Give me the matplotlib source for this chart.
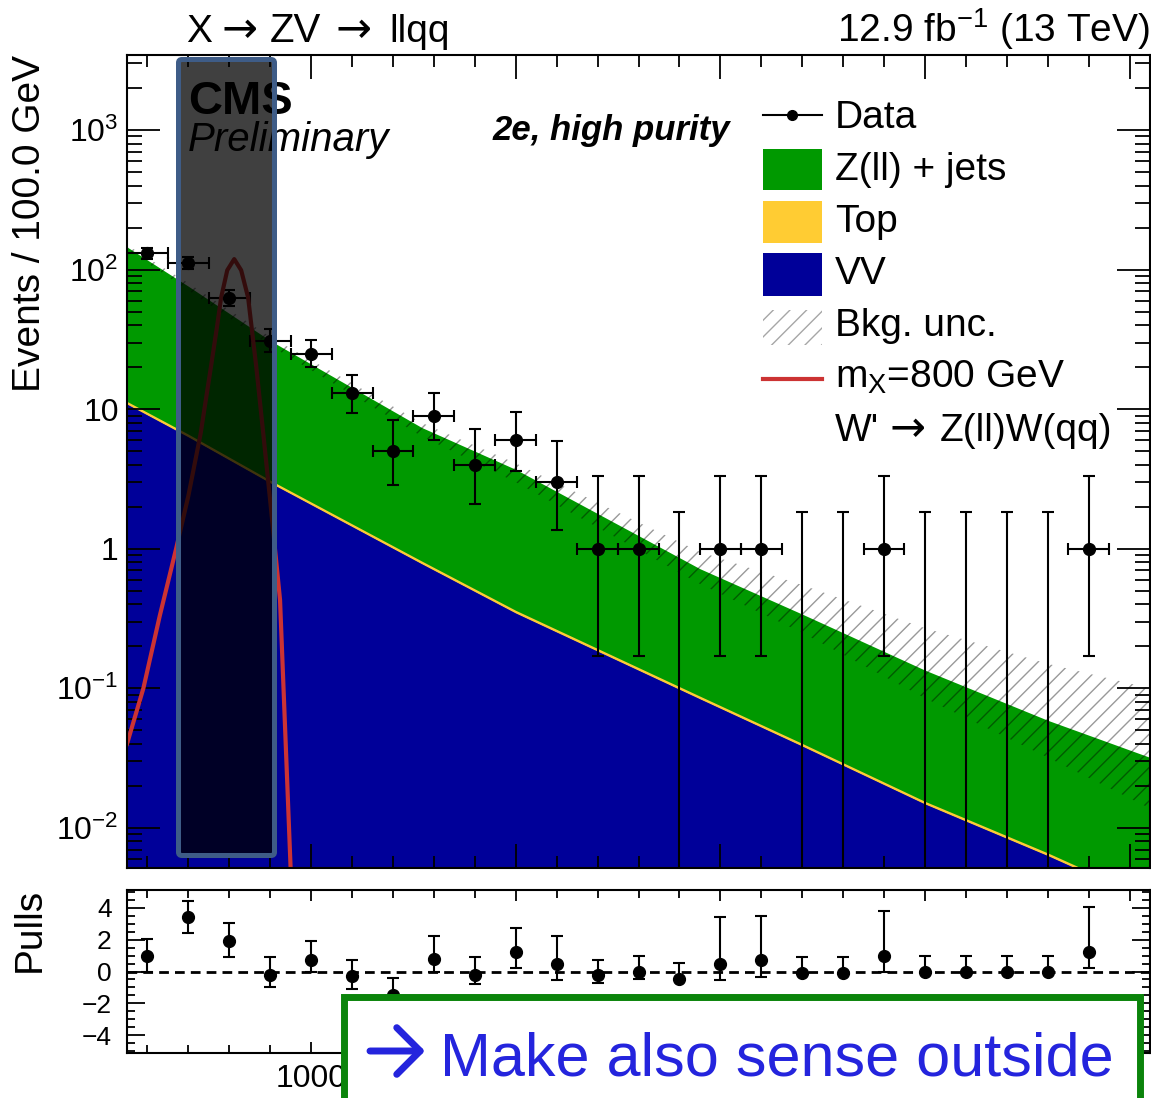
import numpy as np
import matplotlib
matplotlib.use("Agg")
import matplotlib.pyplot as plt
from matplotlib.patches import Rectangle, FancyBboxPatch, FancyArrowPatch
from matplotlib.lines import Line2D
from matplotlib.ticker import MultipleLocator, LogLocator, FuncFormatter, FixedLocator, NullFormatter

plt.rcParams['font.family'] = ['Liberation Sans', 'DejaVu Sans']
plt.rcParams['mathtext.fontset'] = 'custom'
plt.rcParams['mathtext.rm'] = 'Liberation Sans'
plt.rcParams['mathtext.it'] = 'Liberation Sans:italic'
plt.rcParams['mathtext.bf'] = 'Liberation Sans:bold'
plt.rcParams['hatch.linewidth'] = 1.0

# --- data ---
bin_center = [600, 700, 800, 900, 1000, 1100, 1200, 1300, 1400, 1500, 1600, 1700,
              1800, 1900, 2000, 2100, 2200, 2300, 2400, 2500, 2600, 2700, 2800, 2900]
bin_width = 100
counts = [131, 111, 63, 31, 25, 13, 5, 9, 4, 6, 3, 1, 1, 0, 1, 1, 0, 0, 1, 0, 0, 0, 0, 1]
err_lo = [11.4, 10.5, 7.9, 5.5, 4.9, 3.6, 2.16, 2.94, 1.91, 2.38, 1.63, 0.83, 0.83, 0,
          0.83, 0.83, 0, 0, 0.83, 0, 0, 0, 0, 0.83]
err_hi = [12.5, 11.6, 9.0, 6.6, 6.1, 4.7, 3.38, 4.11, 3.16, 3.58, 2.92, 2.30, 2.30, 1.84,
          2.30, 2.30, 1.84, 1.84, 2.30, 1.84, 1.84, 1.84, 1.84, 2.30]

pull = [1.0, 3.4, 1.9, -0.25, 0.75, -0.3, -1.45, 0.8, -0.25, 1.2, 0.5, -0.25,
        -0.05, -0.45, 0.5, 0.7, -0.1, -0.1, 1.0, -0.05, -0.05, -0.05, -0.05, 1.2]
pull_top = [2.06, 4.4, 3.06, 0.9, 1.9, 0.75, -0.4, 2.2, 0.9, 2.75, 2.25, 0.75,
            0.95, 0.55, 3.4, 3.5, 0.9, 0.9, 3.8, 0.95, 0.95, 0.95, 0.95, 4.05]
pull_bot = [0.0, 2.4, 0.9, -1.0, 0.0, -1.1, -2.5, 0.0, -0.8, 0.2, -0.55, -0.7,
            -0.45, -0.45, -0.55, -0.35, -0.1, -0.1, 0.0, -0.05, -0.05, -0.05, -0.05, 0.2]

curve_mass = [550, 700, 900, 1270, 1500, 1950, 2200, 2500, 2800, 3050]
vv = [11, 6.4, 3.0, 0.79, 0.35, 0.085, 0.039, 0.015, 0.0064, 0.003]
top = [0.37, 0.22, 0.10, 0.027, 0.012, 0.0029, 0.0013, 0.0005, 0.00022, 0.0001]
zjets = [134, 69.4, 27.9, 6.58, 3.34, 0.632, 0.30, 0.1195, 0.0524, 0.0289]
unc_up = [150, 80, 33, 8.0, 4.1, 0.95, 0.55, 0.27, 0.15, 0.10]
unc_dn = [140, 71, 28.5, 6.4, 3.0, 0.56, 0.25, 0.085, 0.032, 0.0138]

sig_mass = [550, 590, 630, 670, 700, 730, 755, 770, 780, 795, 812, 829, 846, 866, 883, 900, 924, 950]
sig = [0.04, 0.1, 0.33, 1.0, 2.4, 6.7, 20, 39, 63, 99, 119, 99, 63, 20, 6.7, 2.2, 0.43, 0.005]

W, H = 1151, 1098
def P(x, y):
    return (x / W, 1 - y / H)

fig = plt.figure(figsize=(W / 100, H / 100), dpi=100)
ax = fig.add_axes([127 / W, 1 - 868 / H, (1150 - 127) / W, (868 - 55) / H])
ax2 = fig.add_axes([127 / W, 1 - 1053 / H, (1150 - 127) / W, (1053 - 890) / H])

x = np.array(bin_center)
c = np.array(counts, dtype=float)
lo = np.array(err_lo)
hi = np.array(err_hi)
m = np.array(curve_mass)
vv = np.array(vv); top = np.array(top); zjets = np.array(zjets)

floor = 1e-4
ax.fill_between(m, floor, vv, color='#000099', lw=0)
ax.fill_between(m, vv, vv + top, facecolor='#ffcc33', edgecolor='#ffcc33', lw=0.8)
ax.fill_between(m, vv + top, vv + top + zjets, color='#009900', lw=0)
ax.fill_between(m, unc_dn, unc_up, facecolor='none', edgecolor=(0, 0, 0, 0.4), hatch='//', lw=0)

nz = c > 0
ax.errorbar(x[nz], c[nz], xerr=bin_width / 2, yerr=[lo[nz], hi[nz]], fmt='o', color='k',
            ms=8.5, elinewidth=1.5, capsize=4, capthick=1.5)
zb = ~nz
ax.vlines(x[zb], floor, hi[zb], color='k', lw=1.5)
ax.plot(x[zb], hi[zb], ls='none', marker='_', ms=8, mew=1.5, color='k')

ax.plot(sig_mass, sig, color='#cc3333', lw=3)

ax.set_yscale('log')
ax.set_xlim(550, 3050)
ax.set_ylim(0.00516, 3450)

def yfmt(v, pos):
    e = int(round(np.log10(v)))
    if e == 0:
        return '1'
    if e == 1:
        return '10'
    return '$10^{%d}$' % e

ax.xaxis.set_major_locator(MultipleLocator(500))
ax.xaxis.set_minor_locator(MultipleLocator(100))
ax.yaxis.set_major_locator(LogLocator(base=10, numticks=20))
ax.yaxis.set_minor_locator(LogLocator(base=10, subs=range(2, 10), numticks=20))
ax.yaxis.set_major_formatter(FuncFormatter(yfmt))
ax.yaxis.set_minor_formatter(NullFormatter())
ax.tick_params(which='both', direction='in', top=True, right=True, labelbottom=False, width=1.3)
ax.tick_params(axis='x', which='major', length=17)
ax.tick_params(axis='x', which='minor', length=8.5)
ax.tick_params(axis='y', which='major', length=24, labelsize=23, pad=6)
ax.tick_params(axis='y', which='minor', length=11)

# pulls
pull = np.array(pull)
ax2.errorbar(x, pull, yerr=[pull - np.array(pull_bot), np.array(pull_top) - pull], fmt='o',
             color='k', ms=8.5, elinewidth=1.5, capsize=4, capthick=1.5)
ax2.axhline(0, color='k', ls=(0, (3.5, 2.2)), lw=2)
ax2.set_xlim(550, 3050)
ax2.set_ylim(-5.1, 5.1)
# only the 1000 label is visible; the others sit under the note box
ax2.xaxis.set_major_locator(FixedLocator([1000, 1500, 2000, 2500, 3000]))
ax2.xaxis.set_major_formatter(FuncFormatter(lambda v, p: '%d' % v if v == 1000 else ''))
ax2.xaxis.set_minor_locator(MultipleLocator(100))
ax2.yaxis.set_major_locator(FixedLocator([-4, -2, 0, 2, 4]))
ax2.yaxis.set_minor_locator(MultipleLocator(0.5))
ax2.tick_params(which='both', direction='in', top=True, right=True, width=1.3)
ax2.tick_params(axis='x', which='major', length=8, labelsize=23, pad=8)
ax2.tick_params(axis='x', which='minor', length=5.5)
ax2.tick_params(axis='y', which='major', length=13, labelsize=19, pad=11)
ax2.tick_params(axis='y', which='minor', length=6)

for a in (ax, ax2):
    for s in a.spines.values():
        s.set_linewidth(1.5)

arrow_font = ['DejaVu Sans']

# titles and labels
fig.text(*P(186, 42), 'X', fontsize=28, va='baseline')
fig.text(*P(222, 42), '→', fontsize=31, family=arrow_font, va='baseline')
fig.text(*P(270, 42), 'ZV', fontsize=29, va='baseline')
fig.text(*P(335, 42), '→', fontsize=31, family=arrow_font, va='baseline')
fig.text(*P(389, 42), 'llqq', fontsize=28, va='baseline')
fig.text(*P(1150, 42), '12.9 fb$^{-1}$ (13 TeV)', fontsize=28, ha='right', va='baseline')
fig.text(*P(30, 55), 'Events / 100.0 GeV', rotation=90, ha='center', va='top', fontsize=28)
fig.text(*P(30, 888), 'Pulls', rotation=90, ha='center', va='top', fontsize=28)

ax.text(*P(188, 114), 'CMS', transform=fig.transFigure, fontsize=34, fontweight='bold', va='baseline')
ax.text(*P(188, 151), 'Preliminary', transform=fig.transFigure, fontsize=29, style='italic', va='baseline')
ax.text(*P(730, 140), '2e, high purity', transform=fig.transFigure, fontsize=25, fontweight='bold',
        style='italic', ha='right', va='baseline')

# legend
fig.add_artist(Line2D([763 / W, 822 / W], [P(0, 115)[1]] * 2, color='k', lw=1.5))
fig.add_artist(Line2D([792 / W], [P(0, 115)[1]], marker='o', ms=7, color='k'))
for (y0, y1, col) in [(149, 190, '#009900'), (201, 243, '#ffcc33'), (253, 296, '#000099')]:
    fig.add_artist(Rectangle(P(763, y1), 59 / W, (y1 - y0) / H, transform=fig.transFigure,
                             facecolor=col, edgecolor='none'))
fig.add_artist(Rectangle(P(763, 345), 59 / W, 35 / H, transform=fig.transFigure,
                         facecolor='none', edgecolor=(0, 0, 0, 0.35), hatch='//', lw=0))
fig.add_artist(Line2D([763 / W, 822 / W], [P(0, 379)[1]] * 2, color='#cc3333', lw=3))
leg_text = ['Data', 'Z(ll) + jets', 'Top', 'VV', 'Bkg. unc.', 'm$_{\\mathrm{X}}$=800 GeV']
for t, yb in zip(leg_text, [128, 180, 232, 284, 336, 388]):
    fig.text(*P(835, yb), t, fontsize=28, va='baseline')
fig.text(*P(835, 441), "W'", fontsize=28, va='baseline')
fig.text(*P(890, 441), '→', fontsize=31, family=arrow_font, va='baseline')
fig.text(*P(940, 441), 'Z(ll)W(qq)', fontsize=28, va='baseline')

# overlays
fig.add_artist(FancyBboxPatch(P(178.5, 855.5), 96 / W, 796 / H,
                              boxstyle='round,pad=0,rounding_size=0.003', transform=fig.transFigure,
                              facecolor=(0, 0, 0, 0.75), edgecolor='#3e5c87', lw=3.6, zorder=5))
fig.add_artist(Rectangle(P(343.5, 1130), 796 / W, 133.5 / H, transform=fig.transFigure,
                         facecolor='white', edgecolor='#0b840b', lw=5, zorder=6, clip_on=False))
fig.add_artist(FancyArrowPatch(P(370, 1051), P(425, 1051), transform=fig.transFigure,
                               arrowstyle='->,head_length=0.4,head_width=0.4', mutation_scale=42,
                               color='#2424dd', lw=5, zorder=7, shrinkA=0, shrinkB=0))
fig.text(*P(440, 1075), 'Make also sense outside', color='#2424dd', fontsize=44,
         va='baseline', zorder=7)

fig.savefig('out.png', dpi=100)
